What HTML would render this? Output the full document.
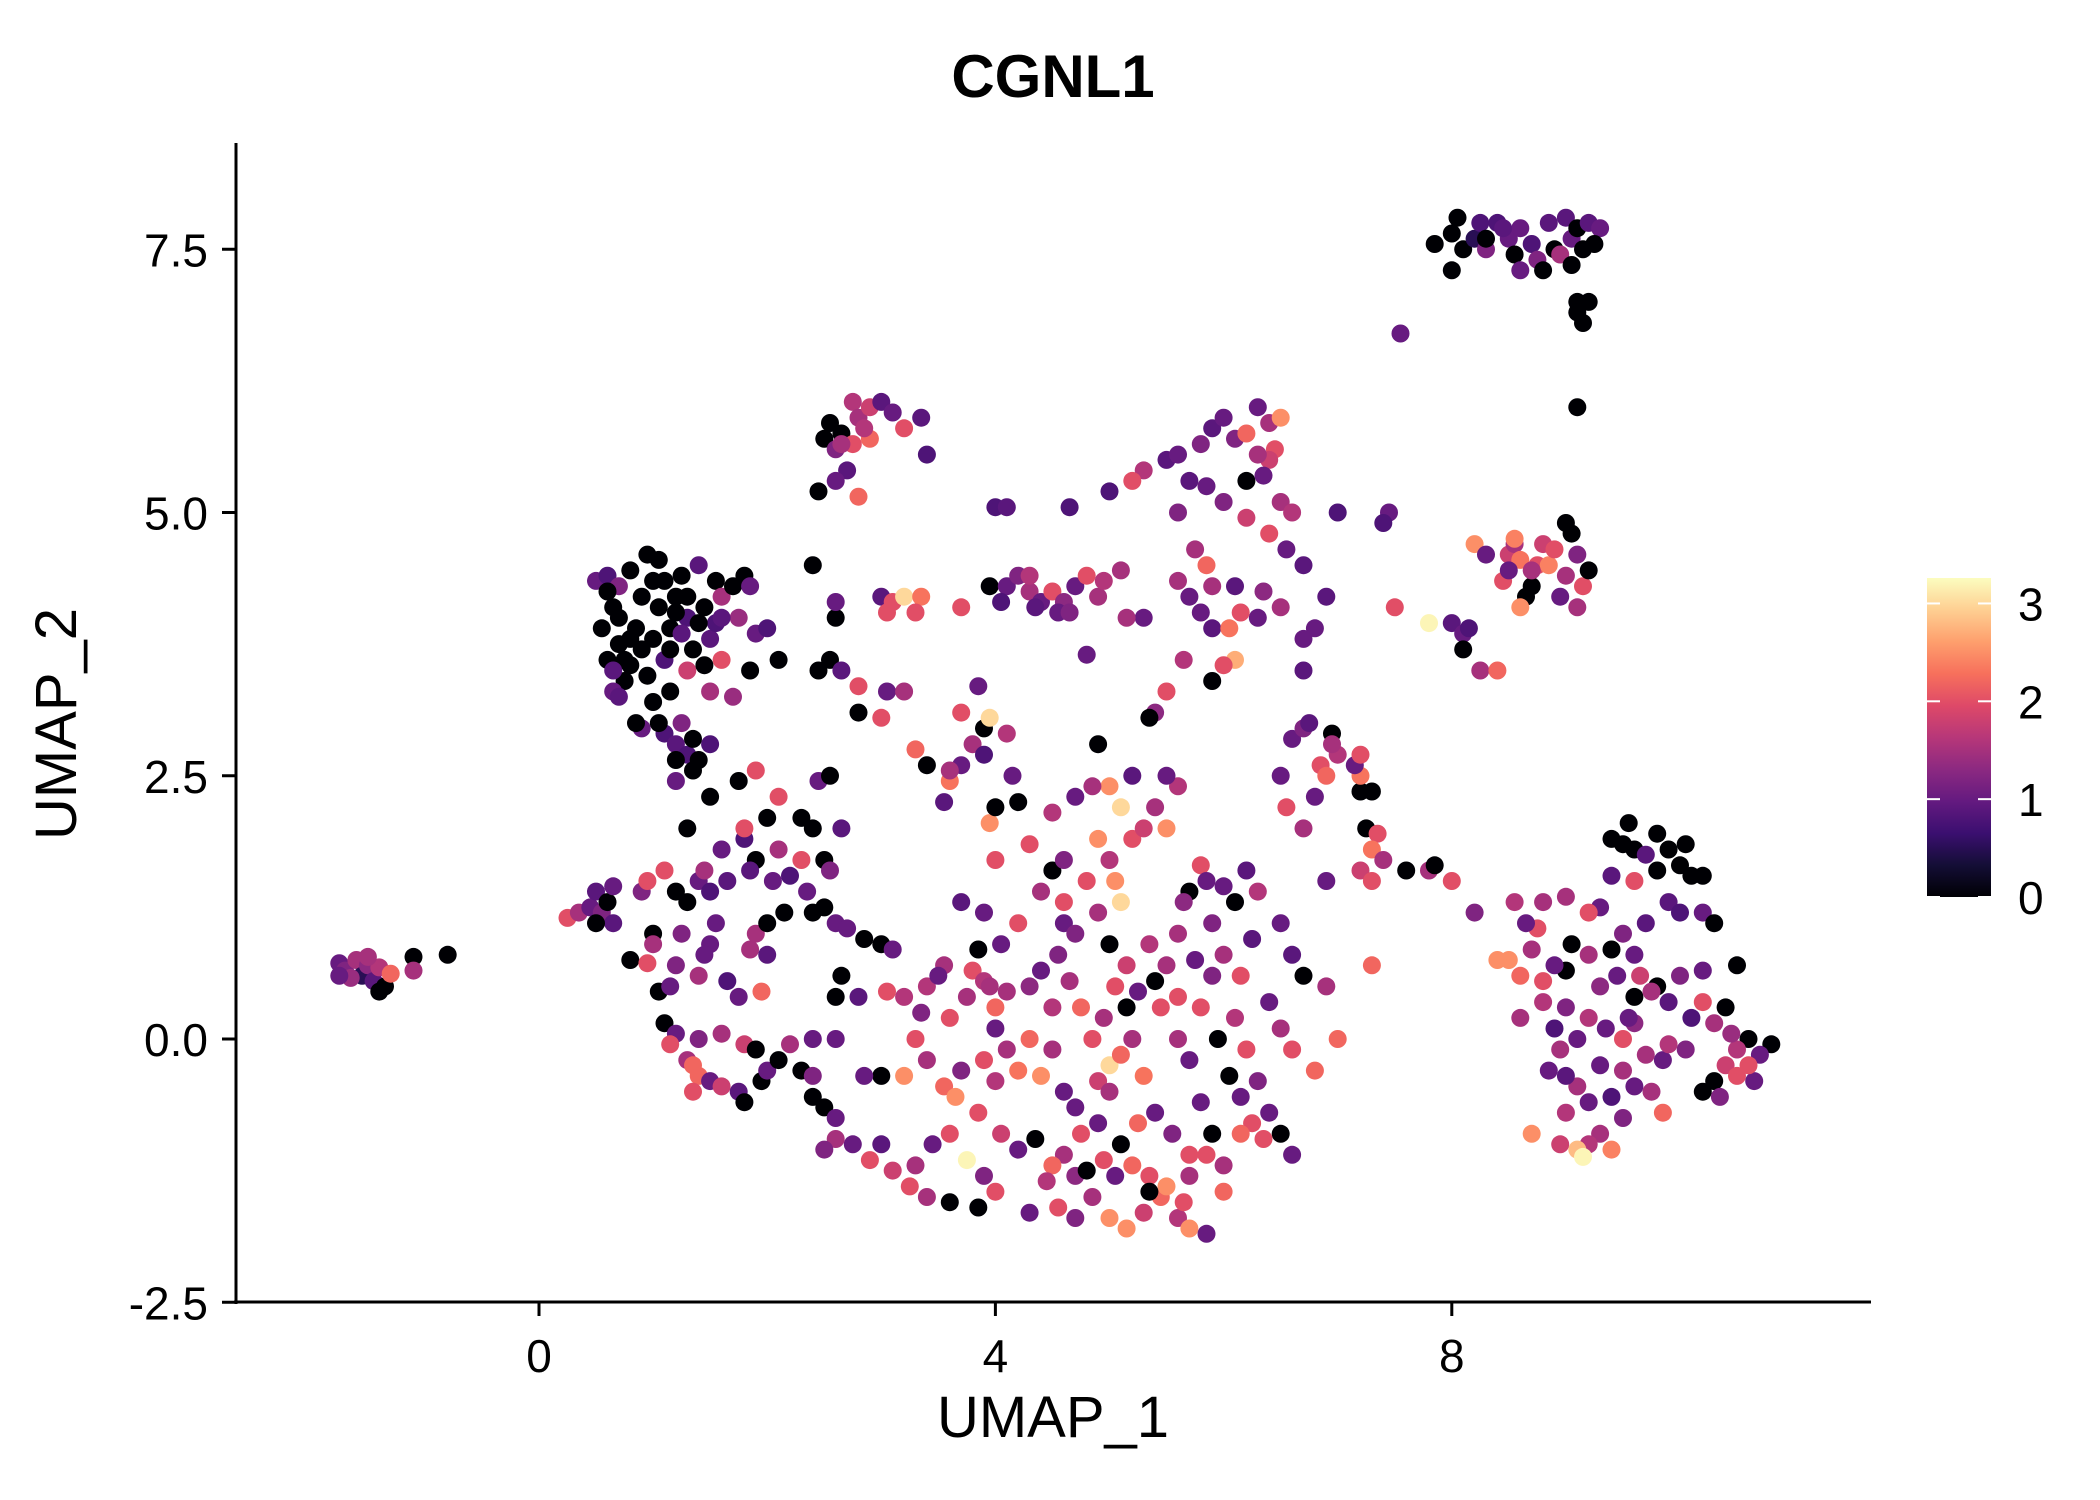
<!DOCTYPE html>
<html><head><meta charset="utf-8"><style>
html,body{margin:0;padding:0;background:#fff}
svg{display:block;font-family:"Liberation Sans",Arial,sans-serif}
</style></head><body>
<svg id="chart" width="2100" height="1500" viewBox="0 0 2100 1500" xmlns="http://www.w3.org/2000/svg">
<defs>
<linearGradient id="magma" x1="0" y1="1" x2="0" y2="0">
<stop offset="0" stop-color="#000004"/><stop offset="0.1" stop-color="#140e36"/><stop offset="0.2" stop-color="#3b0f70"/><stop offset="0.3" stop-color="#641a80"/><stop offset="0.4" stop-color="#8c2981"/><stop offset="0.5" stop-color="#b73779"/><stop offset="0.6" stop-color="#de4968"/><stop offset="0.7" stop-color="#f7705c"/><stop offset="0.8" stop-color="#fe9f6d"/><stop offset="0.9" stop-color="#fecf92"/><stop offset="1" stop-color="#fcfdbf"/>
</linearGradient>
</defs>
<text x="1053" y="97" font-size="60" font-weight="bold" text-anchor="middle">CGNL1</text>
<g id="points"></g>
<g id="axes"></g>
<text x="1053" y="1437" font-size="58" text-anchor="middle">UMAP_1</text>
<text x="0" y="0" font-size="58" text-anchor="middle" transform="translate(76,724) rotate(-90)">UMAP_2</text>
<g id="legend"></g>
</svg>
<script>
const xTicks = [0, 4, 8];
const xTickLabels = ["0", "4", "8"];
const yTicks = [-2.5, 0, 2.5, 5, 7.5];
const yTickLabels = ["-2.5", "0.0", "2.5", "5.0", "7.5"];
const legendTicks = [0, 1, 2, 3];
const legendMax = 3.26;

const clusterFarLeft = [[-1.75,0.72,1.0],[-1.7,0.65,1.2],[-1.6,0.75,1.5],[-1.55,0.6,0.5],[-1.5,0.7,1.3],[-1.45,0.55,0.9],[-1.4,0.68,1.6],[-1.35,0.5,0],[-1.3,0.62,2.2],[-1.65,0.58,1.4],[-1.5,0.78,1.5],[-1.4,0.45,0],[-1.1,0.78,0],[-1.1,0.65,1.5],[-0.8,0.8,0],[-1.75,0.6,1.0]];
const clusterUpperLeft = [[0.5,4.35,1.0],[0.6,4.4,0.8],[0.65,4.1,0],[0.55,3.9,0],[0.6,3.6,0],[0.7,3.75,0],[0.75,3.4,0],[0.65,3.3,1.0],[0.8,3.55,0],[0.85,3.9,0],[0.9,4.2,0],[0.95,4.6,0],[1.0,4.35,0],[1.05,4.1,0],[1.0,3.8,0],[1.1,3.6,0.8],[1.15,3.9,0],[1.2,4.2,0],[1.25,4.4,0],[1.3,4.0,0.8],[1.35,3.7,0],[1.4,4.5,0.9],[1.45,4.1,0],[1.5,3.8,0.9],[1.55,4.35,0],[1.6,4.2,1.5],[1.7,4.3,0],[1.75,4.0,1.4],[1.8,4.4,0],[1.85,4.3,1.0],[1.9,3.85,1.0],[2.0,3.9,0.8],[1.0,3.2,0],[0.9,2.95,1.0],[1.1,2.9,0.8],[1.2,2.8,0.9],[1.3,2.7,0.8],[1.4,2.65,0],[1.35,2.55,0],[1.2,2.45,1.0],[1.5,3.3,1.5],[1.6,3.6,2.0],[1.7,3.25,1.4],[1.85,3.5,0],[2.1,3.6,0],[1.3,3.5,1.8],[1.5,2.8,0.8],[1.75,2.45,0],[0.85,3.0,0],[1.05,4.55,0],[0.7,4.3,1.2],[1.15,3.3,0],[1.25,3.0,1.2],[1.55,3.95,0.8]];
const clusterUpperLeftExtra = [[0.6,4.25,0],[0.7,4.0,0],[0.8,3.8,0],[0.75,3.6,0],[0.9,3.7,0],[0.95,3.45,0],[0.7,3.25,0.9],[1.1,4.35,0],[1.2,4.05,0],[1.3,4.2,0],[1.4,3.95,0],[1.15,3.7,0],[1.25,3.85,0.9],[1.05,3.0,0],[1.2,2.65,0],[1.35,2.85,0],[0.8,4.45,0],[0.65,3.5,0.9],[1.45,3.55,0],[1.6,4.0,0.9]];
const clusterTopLeft = [[2.5,5.7,0],[2.55,5.85,0],[2.6,5.6,1.2],[2.65,5.75,0],[2.75,6.05,1.6],[2.8,5.9,1.5],[2.9,6.0,1.8],[3.0,6.05,0.9],[3.1,5.95,1.0],[2.9,5.7,2.2],[2.75,5.65,2.0],[2.85,5.8,1.6],[2.7,5.4,0.9],[2.6,5.3,1.0],[2.45,5.2,0],[2.8,5.15,2.2],[3.2,5.8,2.0],[3.4,5.55,0.8],[3.35,5.9,0.9],[2.65,5.65,1.5]];
const clusterMidScatter = [[2.4,4.5,0],[2.6,4.0,0],[2.6,4.15,1.0],[3.0,4.2,0.9],[3.1,4.15,2.0],[3.2,4.2,3.0],[3.35,4.2,2.3],[3.3,4.05,2.0],[3.05,4.05,2.0],[3.7,4.1,2.0],[2.55,3.6,0],[2.65,3.5,0.9],[2.45,3.5,0],[2.8,3.1,0],[2.8,3.35,2.0],[3.05,3.3,1.0],[3.2,3.3,1.5],[3.0,3.05,2.0],[3.3,2.75,2.2],[3.4,2.6,0],[3.7,3.1,2.0],[3.8,2.8,1.5],[3.7,2.6,1.0],[3.6,2.45,2.3],[3.55,2.25,0.9],[3.9,2.95,0],[3.95,3.05,3.0],[3.9,2.7,0.8],[4.1,2.9,1.6],[4.15,2.5,1.0],[3.95,2.05,2.5],[4.0,2.2,0],[2.45,2.45,1.0],[2.55,2.5,0],[2.3,2.1,0],[2.65,2.0,0.9],[3.6,2.55,1.5],[3.85,3.35,1.0]];
const clusterCenterTop = [[3.95,4.3,0],[4.1,4.3,1.0],[4.2,4.4,1.2],[4.3,4.25,1.5],[4.4,4.15,1.0],[4.5,4.25,2.0],[4.6,4.15,1.3],[4.7,4.3,1.0],[4.8,4.4,2.0],[4.9,4.2,1.5],[4.35,4.1,0.9],[4.55,4.05,1.0],[5.1,4.45,1.5],[5.3,4.0,1.0],[4.8,3.65,1.0],[4.3,4.4,1.6],[4.05,4.15,0.8],[4.65,4.05,1.2],[4.95,4.35,1.6],[4.0,5.05,0.8],[4.1,5.05,0.9],[4.65,5.05,0.8]];
const clusterCenterRight = [[5.5,5.5,0.9],[5.6,5.55,1.0],[5.8,5.65,1.2],[5.9,5.8,0.9],[6.0,5.9,1.0],[6.1,5.7,1.2],[6.3,6.0,1.0],[6.4,5.85,1.5],[6.5,5.9,2.5],[6.45,5.6,2.0],[6.2,5.75,2.2],[6.4,5.5,1.8],[5.7,5.3,0.9],[5.85,5.25,1.0],[6.0,5.1,1.2],[6.2,5.3,0],[6.35,5.35,1.0],[6.5,5.1,1.5],[6.6,5.0,1.6],[6.2,4.95,1.8],[6.4,4.8,2.0],[6.55,4.65,1.0],[6.7,4.5,0.9],[5.6,5.0,1.2],[5.75,4.65,1.5],[5.85,4.5,2.2],[5.9,4.3,1.5],[5.8,4.05,1.0],[5.7,4.2,1.0],[5.6,4.35,1.5],[5.9,3.9,0.9],[6.1,4.3,0.9],[6.3,4.0,1.0],[6.35,4.25,1.3],[6.5,4.1,1.5],[6.15,4.05,2.0],[6.05,3.9,2.3],[6.1,3.6,2.7],[6.0,3.55,2.0],[5.9,3.4,0],[6.8,3.9,1.0],[6.9,4.2,0.9],[6.7,3.8,1.0],[6.7,3.5,0.9],[7.0,5.0,0.8],[5.3,5.4,1.6],[5.2,5.3,2.0],[5.0,5.2,0.8],[5.15,4.0,1.5],[5.5,3.3,2.0],[5.4,3.1,1.3],[5.65,3.6,1.6],[6.3,5.55,1.5]];
const clusterTopRight = [[7.85,7.55,0],[8.0,7.65,0],[8.05,7.8,0],[8.1,7.5,0],[8.0,7.3,0],[8.2,7.6,0.5],[8.25,7.75,0.8],[8.3,7.5,1.2],[8.4,7.75,0.8],[8.5,7.6,1.0],[8.55,7.45,0],[8.6,7.7,1.0],[8.7,7.55,0.8],[8.75,7.4,1.2],[8.85,7.75,0.9],[8.8,7.3,0],[8.9,7.5,0],[9.0,7.8,0.9],[9.05,7.6,1.0],[9.1,7.7,0],[9.15,7.5,0],[9.2,7.75,0.9],[9.3,7.7,1.0],[9.25,7.55,0],[8.95,7.45,1.5],[9.05,7.35,0],[8.6,7.3,1.0],[8.45,7.7,0.9],[9.1,7.0,0],[9.2,7.0,0],[9.1,6.9,0],[9.15,6.8,0],[9.1,6.0,0],[7.55,6.7,1.0],[8.3,7.6,0]];
const clusterRightMid = [[7.8,3.95,3.2],[8.0,3.95,0.9],[8.1,3.85,1.0],[8.1,3.7,0],[8.15,3.9,0.8],[8.25,3.5,1.5],[8.4,3.5,2.2],[8.45,4.35,2.0],[8.5,4.6,1.8],[8.55,4.7,1.5],[8.6,4.55,2.3],[8.65,4.2,0],[8.7,4.3,0],[8.6,4.1,2.5],[8.75,4.5,2.0],[8.8,4.7,1.8],[8.85,4.5,2.4],[8.9,4.65,2.0],[9.0,4.9,0],[9.05,4.8,0],[9.1,4.6,1.2],[9.0,4.4,1.5],[9.15,4.3,2.0],[9.2,4.45,0],[9.1,4.1,1.5],[8.55,4.75,2.4],[8.95,4.2,1.0],[8.2,4.7,2.5],[8.3,4.6,1.0],[8.5,4.45,1.0],[8.7,4.45,1.5],[7.5,4.1,2.0],[7.45,5.0,1.0],[7.4,4.9,0.8]];
const clusterRightLower = [[9.4,1.9,0],[9.5,1.85,0],[9.55,2.05,0],[9.6,1.8,0],[9.7,1.75,0.9],[9.8,1.95,0],[9.9,1.8,0],[10.0,1.65,0],[10.05,1.85,0],[10.1,1.55,0],[10.2,1.55,0],[9.8,1.6,0],[9.6,1.5,2.0],[9.4,1.55,0.9],[9.3,1.25,1.0],[9.2,1.2,2.0],[9.0,1.35,1.5],[8.8,1.3,1.5],[9.9,1.3,0.9],[10.0,1.2,0.8],[10.2,1.2,1.0],[10.3,1.1,0],[9.7,1.1,0.9],[9.5,1.0,1.2],[9.4,0.85,0],[9.6,0.8,1.0],[9.2,0.8,1.5],[9.05,0.9,0],[9.0,0.65,0],[8.9,0.7,1.0],[8.8,0.55,2.0],[8.6,0.6,2.2],[8.5,0.75,2.5],[8.7,0.85,1.5],[8.75,1.05,2.0],[8.65,1.1,1.0],[8.55,1.3,1.6],[9.8,0.5,0],[9.6,0.4,0],[9.9,0.35,0.9],[10.0,0.6,1.2],[10.2,0.65,1.0],[10.1,0.2,0.8],[10.2,0.35,2.0],[10.3,0.15,1.5],[10.4,0.3,0],[10.5,0.7,0],[10.6,0.0,0],[10.8,-0.05,0],[10.7,-0.15,1.0],[10.5,-0.1,1.6],[10.4,-0.25,1.8],[10.3,-0.4,0],[10.2,-0.5,0],[10.35,-0.55,1.2],[10.65,-0.4,1.0],[10.5,-0.35,2.0],[9.0,0.3,1.2],[8.9,0.1,0.8],[9.1,0.0,1.0],[8.95,-0.1,1.5],[9.2,0.2,1.6],[9.35,0.1,1.0],[9.5,0.0,2.0],[9.7,-0.15,1.5],[9.6,0.15,1.3],[9.85,-0.2,1.0],[9.9,-0.05,1.6],[10.05,-0.1,1.2],[9.3,-0.25,1.0],[9.1,-0.45,1.5],[9.0,-0.35,0.9],[9.2,-0.6,1.0],[9.4,-0.55,0.8],[9.5,-0.75,1.2],[9.6,-0.45,1.0],[9.75,-0.5,1.5],[9.85,-0.7,2.2],[9.3,-0.9,1.5],[9.2,-1.0,1.6],[9.4,-1.05,2.4],[9.1,-1.05,2.8],[9.15,-1.12,3.2],[8.95,-1.0,1.8],[9.0,-0.7,1.6],[8.85,-0.3,1.0],[9.5,-0.3,1.5],[8.7,-0.9,2.5],[8.6,0.2,1.5],[8.8,0.35,1.6],[8.4,0.75,2.5],[9.3,0.5,1.3],[9.45,0.6,1.0],[9.75,0.45,1.5],[9.65,0.6,1.8],[9.55,0.2,1.0],[10.45,0.05,1.4],[10.6,-0.25,2.0]];
const clusterBridge = [[7.2,2.35,0],[7.3,2.35,0],[7.25,2.0,0],[7.35,1.95,2.0],[7.3,1.8,2.3],[7.4,1.7,1.5],[7.2,1.6,1.8],[7.3,1.5,2.0],[7.6,1.6,0],[7.8,1.6,1.5],[7.85,1.65,0],[8.0,1.5,2.0],[8.2,1.2,1.2],[7.3,0.7,2.2],[7.0,2.7,1.6],[7.2,2.5,2.3],[7.15,2.6,1.0],[6.95,2.9,0],[6.85,2.6,2.0],[6.95,2.8,1.5],[6.8,2.3,1.0],[6.9,1.5,1.0],[6.7,2.0,1.5],[6.55,2.2,2.0],[6.5,2.5,1.0],[6.6,2.85,1.0],[6.7,2.95,1.2],[6.75,3.0,0.9],[6.9,2.5,2.2],[7.2,2.7,2.0]];
const clusterMidLeft = [[0.25,1.15,2.0],[0.35,1.2,1.5],[0.45,1.25,1.0],[0.5,1.4,0.9],[0.55,1.2,1.2],[0.6,1.3,0],[0.65,1.1,0.9],[0.5,1.1,0],[0.9,1.4,1.2],[0.95,1.5,2.0],[1.1,1.6,2.0],[1.2,1.4,0],[1.3,1.3,0],[1.25,1.0,1.2],[1.4,1.5,1.0],[1.45,1.6,1.5],[1.5,1.4,0.8],[1.6,1.8,1.0],[1.65,1.5,0.9],[1.8,1.9,0.8],[1.9,1.7,0],[1.85,1.6,0.9],[2.0,2.1,0],[2.1,1.8,1.5],[2.05,1.5,1.0],[2.15,1.2,0],[2.2,1.55,0.8],[2.3,1.7,2.0],[2.35,1.4,1.0],[2.4,2.0,0],[2.5,1.7,0],[2.55,1.6,1.2],[2.4,1.2,0],[2.6,1.1,1.0],[2.5,1.25,0],[1.9,2.55,2.0],[2.1,2.3,2.0],[1.5,2.3,0],[1.8,2.0,2.0],[1.3,2.0,0],[0.8,0.75,0],[0.95,0.72,2.0],[1.05,0.45,0],[1.15,0.5,1.0],[1.2,0.7,1.2],[1.4,0.6,1.5],[1.5,0.9,1.0],[1.55,1.1,1.0],[1.65,0.55,0.8],[1.85,0.85,1.5],[1.9,1.0,1.5],[2.0,1.1,0],[1.75,0.4,1.0],[1.95,0.45,2.2],[1.1,0.15,0],[1.2,0.05,1.0],[1.15,-0.05,2.0],[1.4,0.0,1.2],[1.6,0.05,1.5],[1.8,-0.05,1.8],[1.3,-0.2,1.5],[1.4,-0.35,2.2],[1.5,-0.4,1.0],[1.6,-0.45,1.8],[1.75,-0.5,0.9],[1.8,-0.6,0],[1.95,-0.4,0],[1.9,-0.1,0],[2.0,-0.3,1.0],[2.1,-0.2,0],[2.2,-0.05,1.5],[2.3,-0.3,0],[2.4,-0.35,1.2],[2.5,-0.65,0],[2.4,-0.55,0],[2.6,-0.75,1.0],[2.4,0.0,1.0],[2.6,0.4,0],[2.65,0.6,0],[2.8,0.4,0.9],[2.6,0.0,1.0],[1.35,-0.5,2.0],[1.35,-0.25,2.2],[0.65,1.45,1.0],[1.0,1.0,0],[1.0,0.9,1.5],[2.7,1.05,1.0],[2.0,0.8,0.9],[1.45,0.8,1.0]];
const clusterCentral = [[2.85,0.95,0],[3.0,0.9,0],[3.1,0.85,1.0],[3.2,0.4,1.6],[3.05,0.45,2.0],[3.4,0.5,1.6],[3.55,0.7,1.5],[3.6,0.2,2.0],[3.35,0.25,1.2],[3.3,0.0,2.0],[3.7,1.3,0.9],[3.9,1.2,1.0],[3.85,0.85,0],[3.8,0.65,2.0],[3.9,0.55,1.6],[4.0,0.3,2.2],[3.75,0.4,1.5],[4.1,0.45,1.5],[4.3,0.5,1.3],[4.5,0.3,1.6],[4.2,1.1,2.0],[4.4,1.4,1.5],[4.5,1.6,0],[4.6,1.1,1.0],[4.7,1.0,1.2],[4.8,1.5,2.0],[4.9,1.9,2.5],[5.0,1.7,1.6],[5.1,1.3,3.0],[5.05,1.5,2.5],[5.2,1.9,2.0],[5.3,2.0,1.8],[5.4,2.2,1.5],[5.5,2.0,2.5],[5.6,2.4,1.6],[5.5,2.5,1.0],[5.2,2.5,0.9],[5.0,2.4,2.5],[4.85,2.4,1.5],[5.1,2.2,3.0],[4.7,2.3,1.0],[4.5,2.15,1.6],[4.9,2.8,0],[5.35,3.05,0],[4.6,1.7,1.2],[4.3,1.85,2.0],[4.0,1.7,2.0],[4.2,2.25,0],[4.05,0.9,1.0],[4.0,0.1,1.0],[4.3,0.0,2.2],[4.1,-0.1,1.5],[3.9,-0.2,2.0],[3.7,-0.3,1.2],[3.55,-0.45,2.2],[3.4,-0.2,1.5],[3.2,-0.35,2.5],[3.0,-0.35,0],[2.85,-0.35,1.0],[3.65,-0.55,2.5],[3.85,-0.7,2.0],[4.0,-0.4,1.6],[4.2,-0.3,2.3],[4.4,-0.35,2.5],[4.5,-0.1,1.5],[4.6,-0.5,1.0],[4.7,-0.65,1.0],[4.9,-0.4,1.8],[5.0,-0.25,3.0],[5.1,-0.15,2.2],[5.2,0.0,1.5],[5.3,-0.35,2.3],[5.45,0.3,2.0],[5.6,0.0,1.5],[5.7,-0.2,1.0],[5.8,0.3,2.0],[5.9,0.6,1.2],[6.0,0.8,1.5],[6.1,0.2,1.6],[6.2,-0.1,2.0],[6.3,-0.4,1.2],[6.4,-0.7,1.0],[6.5,0.1,1.5],[6.6,-0.1,2.0],[6.8,-0.3,2.2],[6.7,0.6,0],[7.0,0.0,2.2],[6.9,0.5,1.5],[6.5,1.1,1.0],[6.3,1.4,1.6],[6.2,1.6,0.9],[6.1,1.3,0],[6.0,1.45,1.0],[5.9,1.1,1.2],[5.8,1.65,2.0],[5.7,1.4,0],[5.6,1.0,1.5],[5.5,0.7,1.5],[5.35,0.9,1.6],[5.25,0.45,1.0],[5.15,0.7,1.8],[5.05,0.5,2.0],[4.95,0.2,1.5],[4.85,0.0,2.0],[4.75,0.3,2.2],[4.65,0.55,1.5],[4.55,0.8,1.2],[4.4,0.65,1.0],[5.0,0.9,0],[5.4,0.55,0],[5.6,0.4,2.0],[5.75,0.75,1.0],[5.95,0.0,0],[6.05,-0.35,0],[6.15,-0.55,1.0],[6.25,-0.8,2.0],[6.5,-0.9,0],[6.6,-1.1,1.0],[5.9,-0.9,0],[5.8,-0.6,1.0],[5.7,-1.1,2.0],[5.55,-0.9,1.2],[5.4,-0.7,1.0],[5.25,-0.8,2.2],[5.1,-1.0,0],[5.0,-0.5,1.5],[4.9,-0.8,1.0],[4.75,-0.9,2.0],[4.6,-1.1,1.5],[4.5,-1.2,2.2],[4.35,-0.95,0],[4.2,-1.05,1.0],[4.05,-0.9,1.8],[3.9,-1.3,1.2],[3.75,-1.15,3.2],[3.6,-0.9,2.0],[3.45,-1.0,1.0],[3.3,-1.2,1.5],[3.1,-1.25,1.8],[2.9,-1.15,2.0],[2.75,-1.0,1.0],[2.6,-0.95,1.5],[2.5,-1.05,1.2],[3.0,-1.0,0.9],[3.25,-1.4,2.0],[3.4,-1.5,1.5],[3.6,-1.55,0],[3.85,-1.6,0],[4.0,-1.45,2.0],[4.3,-1.65,1.0],[4.55,-1.6,2.0],[4.7,-1.7,1.2],[4.85,-1.5,1.5],[5.0,-1.7,2.5],[5.15,-1.8,2.5],[5.3,-1.65,1.8],[5.45,-1.5,2.2],[5.6,-1.7,1.6],[5.7,-1.8,2.5],[5.85,-1.85,1.0],[5.65,-1.55,2.0],[5.5,-1.4,2.5],[5.35,-1.3,2.0],[5.2,-1.2,2.2],[5.05,-1.3,1.0],[4.95,-1.15,2.0],[5.35,-1.45,0],[5.7,-1.3,1.5],[5.85,-1.1,2.0],[6.0,-1.2,1.5],[6.15,-0.9,2.2],[6.35,-0.95,2.0],[6.0,-1.45,2.2],[4.45,-1.35,1.6],[4.7,-1.3,1.3],[4.8,-1.25,0],[3.5,0.6,1.0],[3.95,0.5,1.5],[4.6,1.3,2.0],[4.9,1.2,1.5],[5.15,0.3,0],[5.65,1.3,1.3],[6.4,0.35,1.0],[6.6,0.8,0.9],[6.15,0.6,2.0],[6.25,0.95,0.9],[5.85,1.5,1.0]];

const NS = "http://www.w3.org/2000/svg";
const x0px = 539, xPerUnit = 114.1;
const yZeroPx = 1039, yPerUnit = 105.3;
function xScale(v){ return x0px + v * xPerUnit; }
function yScale(v){ return yZeroPx - v * yPerUnit; }
const magmaStops = ["#000004","#140e36","#3b0f70","#641a80","#8c2981","#b73779","#de4968","#f7705c","#fe9f6d","#fecf92","#fcfdbf"];
function hex(h){ return [parseInt(h.slice(1,3),16),parseInt(h.slice(3,5),16),parseInt(h.slice(5,7),16)]; }
function magma(v){
  let t = Math.max(0, Math.min(1, v / legendMax)) * 10;
  const i = Math.min(9, Math.floor(t)); const f = t - i;
  const a = hex(magmaStops[i]), b = hex(magmaStops[i+1]);
  return "rgb(" + a.map((c,k)=>Math.round(c + (b[k]-c)*f)).join(",") + ")";
}
function mk(tag, attrs, parent){
  const el = document.createElementNS(NS, tag);
  for (const k in attrs) el.setAttribute(k, attrs[k]);
  parent.appendChild(el); return el;
}

const pts = document.getElementById("points");
const clusters = [clusterFarLeft, clusterUpperLeft, clusterUpperLeftExtra, clusterTopLeft, clusterMidScatter, clusterCenterTop, clusterCenterRight, clusterTopRight, clusterRightMid, clusterRightLower, clusterBridge, clusterMidLeft, clusterCentral];
clusters.forEach(cl => cl.forEach(p => {
  const c = mk("circle", {cx: xScale(p[0]).toFixed(1), cy: yScale(p[1]).toFixed(1), r: 9, fill: magma(p[2])}, pts);
  
  
}));

const axes = document.getElementById("axes");
const yl = mk("line", {x1: 236, y1: 143, x2: 236, y2: 1304, stroke: "#000", "stroke-width": 3}, axes);


const xl = mk("line", {x1: 234, y1: 1302, x2: 1871, y2: 1302, stroke: "#000", "stroke-width": 3}, axes);


xTicks.forEach((t, i) => {
  const x = xScale(t);
  mk("line", {x1: x, y1: 1302, x2: x, y2: 1316, stroke: "#000", "stroke-width": 3}, axes);
  const tx = mk("text", {x: x, y: 1372, "font-size": 46, "text-anchor": "middle"}, axes);
  tx.textContent = xTickLabels[i];
  
  
});
yTicks.forEach((t, i) => {
  const y = yScale(t);
  mk("line", {x1: 222, y1: y, x2: 236, y2: y, stroke: "#000", "stroke-width": 3}, axes);
  const tx = mk("text", {x: 208, y: y + 17, "font-size": 46, "text-anchor": "end"}, axes);
  tx.textContent = yTickLabels[i];
  
  
});

const lg = document.getElementById("legend");
const barTop = 578, barBot = 897, barX = 1927, barW = 64;
const bar = mk("rect", {x: barX, y: barTop, width: barW, height: barBot - barTop, fill: "url(#magma)"}, lg);


legendTicks.forEach(t => {
  const y = barBot - t / legendMax * (barBot - barTop);
  mk("line", {x1: barX, y1: y, x2: barX + 13, y2: y, stroke: "#fff", "stroke-width": 2}, lg);
  mk("line", {x1: barX + barW - 13, y1: y, x2: barX + barW, y2: y, stroke: "#fff", "stroke-width": 2}, lg);
  const tx = mk("text", {x: 2018, y: y + 17, "font-size": 46}, lg);
  tx.textContent = String(t);
  
  
});
</script>
</body></html>
